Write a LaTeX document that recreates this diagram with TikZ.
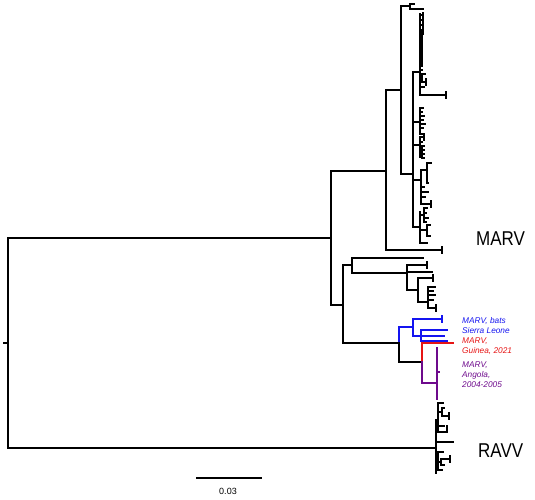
\documentclass[tikz,border=0pt]{standalone}
\usepackage{fontspec}
\setmainfont{Liberation Sans}
\definecolor{mblue}{RGB}{20,20,240}
\definecolor{mred}{RGB}{230,20,20}
\definecolor{mpurple}{RGB}{110,10,140}
\newcommand\brH[3]{\draw[br] (#1,#2) -- (#3,#2);}
\newcommand\brV[3]{\draw[br] (#1,#2) -- (#1,#3);}
\newcommand\brT[2]{\draw[br] (#1,#2-3) -- (#1,#2+3);}
\begin{document}
\begin{tikzpicture}[x=1pt,y=-1pt,
  br/.style={line width=1.3pt, line cap=rect},
  lbl/.style={font=\fontsize{8.3}{10}\selectfont\itshape, anchor=base west, inner sep=0pt},
  big/.style={font=\fontsize{20}{22}\selectfont, anchor=base west, inner sep=0pt, xscale=0.85},
  sc/.style={font=\fontsize{9}{10}\selectfont, inner sep=0pt}]
\useasboundingbox (0,0) rectangle (535,500);
% root
\brV{8}{238}{448}
\brH{4}{343}{8}
% MARV
\brH{8}{238}{331}
\brV{331}{171}{305}
\brH{331}{171}{386}
\brV{386}{90}{250}
\brH{386}{250}{442} \brT{442}{250}
\brH{386}{90}{401}
\brV{401}{6}{174}
\brH{401}{6}{410}
\brV{410}{4}{9}
\brH{410}{4}{414}
\brH{410}{9}{423}
\brH{401}{174}{413}
\brV{413}{72}{227}
% cluster L1
\brH{413}{72}{420}
\brV{420}{14}{95}
\brV{423}{13}{34}
\foreach \y in {30,31,...,66} {\brH{420}{\y}{422.5}}
\foreach \y in {15,20,25} {\brH{420}{\y}{423}}
\brH{420}{70}{422}
\brV{422}{74}{82}
\brH{420}{78}{422}
\brH{422}{74}{425}
\brH{422}{82}{426} \brT{426}{82}
\brH{420}{87}{424}
\brH{420}{95}{446} \brT{446}{95}
% cluster L2
\brH{413}{122}{420}
\brV{420}{108}{134}
\foreach \y/\e in {108/423,112/422,116/424,120/423,124/425,128/423,134/424} {\brH{420}{\y}{\e}}
% cluster L3
\brH{413}{145}{420}
\brV{420}{137}{157}
\brH{420}{137}{424} \brT{424}{137}
\brH{420}{142}{422}
\brH{420}{151}{422}
\brV{422}{146}{158}
\foreach \y in {146,150,154,158} {\brH{422}{\y}{424}}
% cluster L4
\brH{413}{180}{421}
\brV{421}{170}{204}
\brH{421}{170}{427}
\brV{427}{163}{183}
\brH{427}{163}{431}
\brH{427}{183}{428}
\brH{421}{187}{424}
\brH{421}{192}{428}
\brH{421}{197}{425}
\brH{421}{204}{431} \brT{431}{204}
% cluster L5
\brH{413}{227}{420}
\brV{420}{212}{243}
\brH{420}{215}{424}
\brV{424}{208}{222}
\foreach \y/\e in {208/427,213/426,218/428,222/426} {\brH{424}{\y}{\e}}
\brH{420}{230}{427}
\brV{427}{225}{236}
\brH{427}{225}{430}
\brH{427}{236}{430}
\brH{420}{243}{427}
% lower MARV
\brH{331}{305}{343}
\brV{343}{265}{343}
\brH{343}{265}{352}
\brV{352}{258}{273}
\brH{352}{258}{423}
\brH{352}{273}{407}
\brV{407}{265}{290}
\brH{407}{265}{427} \brT{427}{265}
\brH{407}{272}{432}
\brH{407}{290}{418}
\brV{418}{278}{302}
\brH{418}{278}{433} \brT{433}{278}
\brH{418}{302}{428}
\brV{428}{287}{308}
\foreach \y/\e in {287/435,291/433,295/435,300/433} {\brH{428}{\y}{\e}}
\brH{428}{308}{436} \brT{436}{308}
\brH{343}{343}{399}
% bats, Sierra Leone (blue)
\begin{scope}[mblue]
\brV{399}{327}{343}
\brH{399}{327}{413}
\brV{413}{319}{336}
\brH{413}{319}{442} \brT{442}{319}
\brH{413}{336}{421}
\brV{421}{330}{341}
\brH{421}{330}{447}
\brH{421}{336}{444}
\brH{421}{341}{447}
\end{scope}
\brV{399}{343}{362}
\brH{399}{362}{422}
% Guinea (red)
\begin{scope}[mred]
\brV{422}{343}{362}
\brH{422}{343}{453}
\end{scope}
% Angola (purple)
\begin{scope}[mpurple]
\brV{422}{362}{383}
\brH{422}{383}{437}
\brV{437}{348}{399}
\brH{437}{372}{439}
\end{scope}
% RAVV
\brH{8}{448}{436}
\brV{436}{420}{473}
\brH{436}{420}{438}
\brV{438}{403}{432}
\brH{438}{403}{443}
\brH{438}{412}{442}
\brV{442}{408}{416}
\brH{442}{408}{444}
\brH{442}{416}{449} \brT{449}{416}
\brH{438}{426}{444}
\brH{438}{432}{447} \brT{447}{429}
\brH{436}{442}{453}
\brH{436}{458}{438}
\brV{438}{452}{470}
\brH{438}{452}{443}
\brH{438}{462}{441}
\brV{441}{459}{465}
\brH{441}{459}{450} \brT{450}{459}
\brH{441}{465}{444}
\brH{438}{470}{442}
% labels
\node[lbl, mblue] (b1) at (462,323) {MARV, bats};
\node[lbl, mblue] (b2) at (462,333) {Sierra Leone};
\node[lbl, mred] (r1) at (462,343) {MARV,};
\node[lbl, mred] (r2) at (462,353) {Guinea, 2021};
\node[lbl, mpurple] (p1) at (462,367) {MARV,};
\node[lbl, mpurple] (p2) at (462,377) {Angola,};
\node[lbl, mpurple] (p3) at (462,387) {2004-2005};
\node[big] (marv) at (476,245) {MARV};
\node[big] (ravv) at (478,457) {RAVV};
% scale bar
\coordinate (s1) at (197,478);
\coordinate (s2) at (261,478);
\draw[br] (s1) -- (s2);
\node[sc] (sl) at (228,491) {0.03};
\end{tikzpicture}
\end{document}
